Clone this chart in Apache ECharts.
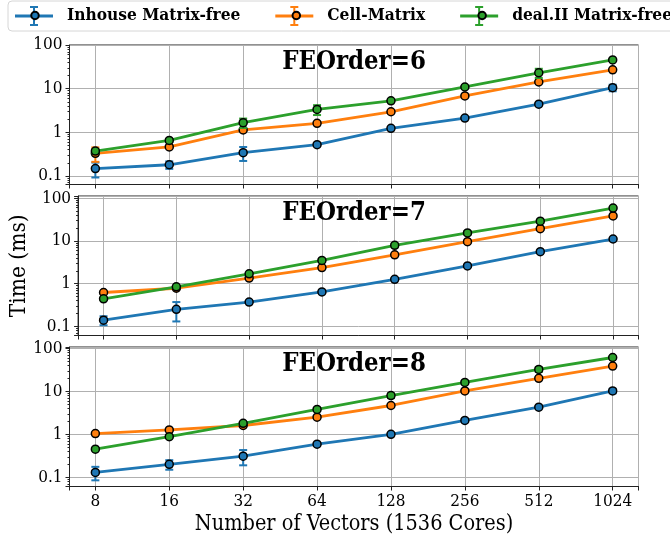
<!DOCTYPE html>
<html><head><meta charset="utf-8">
<script src="https://cdn.jsdelivr.net/npm/echarts@6/dist/echarts.min.js"></script>
<style>html,body{margin:0;padding:0;background:#fff;} #c{width:670px;height:539px;}</style>
</head><body><div id="c"></div>
<script>
const vectors = [8, 16, 32, 64, 128, 256, 512, 1024];
const yTickLabels = ['0.1', '1', '10', '100'];
const seriesNames = ['Inhouse Matrix-free', 'Cell-Matrix', 'deal.II Matrix-free'];
const panelTitles = ['FEOrder=6', 'FEOrder=7', 'FEOrder=8'];

const inhouse6 = [0.147, 0.18, 0.34, 0.52, 1.23, 2.12, 4.4, 10.5];
const cell6 = [0.33, 0.46, 1.13, 1.6, 2.95, 6.8, 14.2, 27];
const dealii6 = [0.37, 0.65, 1.66, 3.33, 5.25, 10.9, 23, 45.6];
const inhouse6Std = [0.055, 0.035, 0.12, 0.02, 0.06, 0.08, 0.15, 1.8];
const cell6Std = [0.12, 0.02, 0.05, 0.05, 0.1, 0.2, 0.4, 1.0];
const dealii6Std = [0.04, 0.05, 0.4, 0.85, 0.2, 0.5, 5.5, 2.0];

const inhouse7 = [0.139, 0.25, 0.37, 0.64, 1.26, 2.6, 5.6, 11.1];
const cell7 = [0.62, 0.78, 1.35, 2.38, 4.73, 9.6, 19.4, 38.5];
const dealii7 = [0.44, 0.84, 1.7, 3.5, 7.9, 15.4, 29, 59];
const inhouse7Std = [0.033, 0.12, 0.01, 0.02, 0.04, 0.1, 0.2, 0.5];
const cell7Std = [0.02, 0.03, 0.05, 0.08, 0.15, 0.4, 0.8, 1.5];
const dealii7Std = [0.03, 0.04, 0.08, 0.2, 0.8, 1.5, 2.5, 3.0];

const inhouse8 = [0.13, 0.2, 0.31, 0.59, 1.0, 2.1, 4.27, 10.2];
const cell8 = [1.04, 1.26, 1.6, 2.5, 4.67, 10.2, 20, 38.6];
const dealii8 = [0.45, 0.88, 1.8, 3.78, 7.95, 16.1, 32.2, 61];
const inhouse8Std = [0.045, 0.05, 0.12, 0.03, 0.04, 0.08, 0.2, 1.2];
const cell8Std = [0.03, 0.04, 0.05, 0.08, 0.2, 0.4, 1.0, 1.5];
const dealii8Std = [0.02, 0.04, 0.1, 0.25, 1.0, 1.2, 4.0, 3.0];

const panelValues = [[inhouse6, cell6, dealii6], [inhouse7, cell7, dealii7], [inhouse8, cell8, dealii8]];
const panelStds = [[inhouse6Std, cell6Std, dealii6Std], [inhouse7Std, cell7Std, dealii7Std], [inhouse8Std, cell8Std, dealii8Std]];

// ---- styling / layout ----
const colors = ['#1f77b4', '#ff7f0e', '#2ca02c'];
const FONT = 'DejaVu Serif Condensed';
const gridLeft = 69.5, gridWidth = 569, gridHeight = 139.5;
const gridTops = [45, 196, 347];
const yMin = [0.0635, 0.0609, 0.0611];
const yMax = [100, 113, 107];
const xMin = 6.277, xMax = 1304.6;

const chart = echarts.init(document.getElementById('c'), null, {renderer: 'canvas'});

const grids = [], xAxes = [], yAxes = [], series = [], graphics = [];
function fmtY(v) {
  const e = Math.log10(v), r = Math.round(e);
  if (Math.abs(e - r) < 1e-6 && r >= -1 && r <= 2) return yTickLabels[r + 1];
  return '';
}
function fmtX(v) {
  const r = Math.round(v);
  if (Math.abs(v - r) < 1e-6 && vectors.indexOf(r) >= 0) return String(r);
  return '';
}
for (let p = 0; p < 3; p++) {
  grids.push({left: gridLeft, top: gridTops[p], width: gridWidth, height: gridHeight, show: true, borderColor: '#222', borderWidth: 1, backgroundColor: 'transparent'});
  xAxes.push({
    type: 'log', logBase: 2, gridIndex: p, min: xMin, max: xMax,
    axisLine: {show: true, lineStyle: {color: '#222', width: 1}},
    axisTick: {show: true, inside: false, length: 4, lineStyle: {color: '#222'}},
    axisLabel: {show: p === 2, formatter: fmtX, fontFamily: FONT, fontSize: 17, color: '#000', margin: 7},
    splitLine: {show: true, lineStyle: {color: '#b0b0b0', width: 1}},
    name: p === 2 ? 'Number of Vectors (1536 Cores)' : '',
    nameLocation: 'middle', nameGap: 27,
    nameTextStyle: {fontFamily: FONT, fontSize: 21.5, color: '#000'}
  });
  yAxes.push({
    type: 'log', logBase: 10, gridIndex: p, min: yMin[p], max: yMax[p],
    axisLine: {show: true, lineStyle: {color: '#222', width: 1}},
    axisTick: {show: true, inside: false, length: 4, lineStyle: {color: '#222'}},
    minorTick: {show: true, splitNumber: 9, length: 2, lineStyle: {color: '#222'}},
    axisLabel: {formatter: fmtY, fontFamily: FONT, fontSize: 17, color: '#000', margin: 7},
    splitLine: {show: true, lineStyle: {color: '#b0b0b0', width: 1}},
    name: p === 1 ? 'Time (ms)' : '',
    nameLocation: 'middle', nameGap: 41, nameRotate: 90,
    nameTextStyle: {fontFamily: FONT, fontSize: 22.5, color: '#000'}
  });
  for (let s = 0; s < 3; s++) {
    const vals = panelValues[p][s], stds = panelStds[p][s];
    const col = colors[s];
    series.push({
      type: 'custom', name: seriesNames[s] + ' error', xAxisIndex: p, yAxisIndex: p,
      z: 2 + s * 2, silent: true,
      encode: {x: 0, y: [1, 2]},
      data: vectors.map((x, i) => [x, Math.max(vals[i] - stds[i], 1e-3), vals[i] + stds[i]]),
      renderItem: function (params, api) {
        const x = api.value(0);
        const a = api.coord([x, api.value(1)]);
        const b = api.coord([x, api.value(2)]);
        const hw = 4;
        const st = {stroke: col, lineWidth: 2};
        return {type: 'group', children: [
          {type: 'line', shape: {x1: a[0], y1: a[1], x2: b[0], y2: b[1]}, style: st},
          {type: 'line', shape: {x1: a[0] - hw, y1: a[1], x2: a[0] + hw, y2: a[1]}, style: st},
          {type: 'line', shape: {x1: b[0] - hw, y1: b[1], x2: b[0] + hw, y2: b[1]}, style: st}
        ]};
      }
    });
    series.push({
      type: 'line', name: seriesNames[s], xAxisIndex: p, yAxisIndex: p, z: 3 + s * 2,
      data: vectors.map((x, i) => [x, vals[i]]),
      symbol: 'circle', symbolSize: 8, showSymbol: true,
      lineStyle: {color: col, width: 2.8},
      itemStyle: {color: col, borderColor: '#000', borderWidth: 1.5},
      emphasis: {disabled: true}, animation: false
    });
  }
  graphics.push({
    type: 'text', x: gridLeft + gridWidth / 2, y: gridTops[p] + 17.5,
    style: {text: panelTitles[p], fontFamily: FONT, fontWeight: 'bold', fontSize: 25.5, fill: '#000', align: 'center', verticalAlign: 'middle'},
    z: 100
  });
}

const iconPath = 'path://M0,8.6L38,8.6L38,11.4L0,11.4Z M18,0L20,0L20,20L18,20Z M15,0L23,0L23,2L15,2Z M15,18L23,18L23,20L15,20Z';
const legendText = {fontFamily: FONT, fontWeight: 'bold', fontSize: 17.2, color: '#000', padding: [0, 0, 0, 9]};
chart.setOption({
  animation: false,
  backgroundColor: '#fff',
  grid: grids, xAxis: xAxes, yAxis: yAxes, series: series, graphic: graphics,
  legend: [
    {data: seriesNames, top: 1, left: 8, width: 720, itemWidth: 38, itemHeight: 20, itemGap: 35,
     padding: [5, 7, 5, 7], backgroundColor: '#fff', borderColor: '#d6d6d6', borderWidth: 1, borderRadius: 4,
     icon: iconPath, itemStyle: {borderWidth: 0}, textStyle: legendText, selectedMode: false, z: 10},
    {data: seriesNames, top: 2, left: 8 + 15.25, width: 720, itemWidth: 7.5, itemHeight: 7.5, itemGap: 50.25,
     padding: [5, 7, 5, 7], icon: 'circle',
     textStyle: Object.assign({}, legendText, {color: 'rgba(0,0,0,0)', padding: [0, 0, 0, 24.25]}), selectedMode: false, z: 11}
  ]
});
</script></body></html>
